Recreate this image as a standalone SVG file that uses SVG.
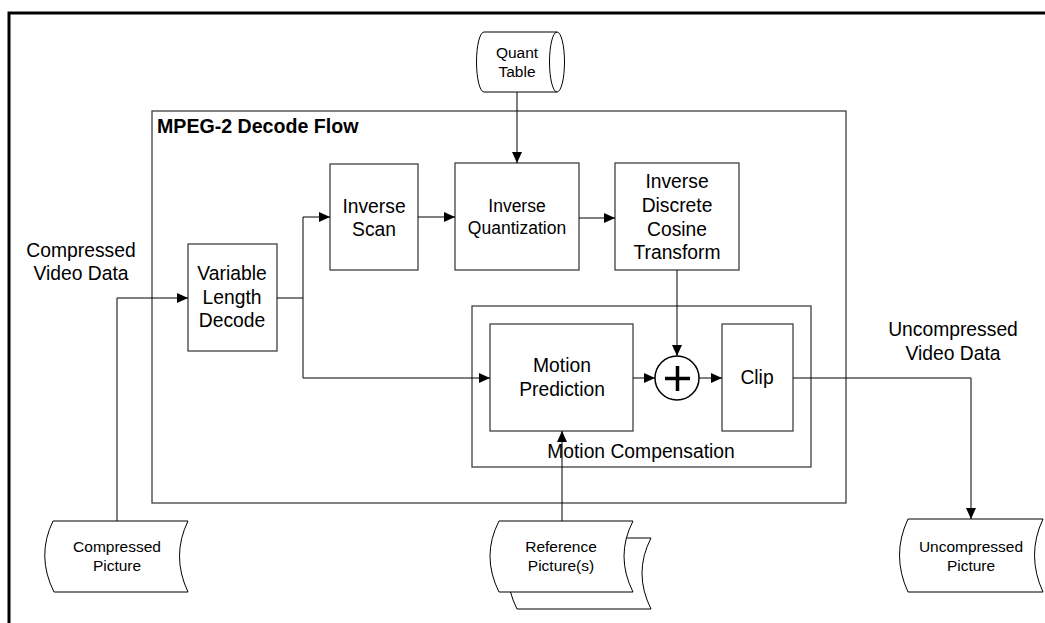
<svg xmlns="http://www.w3.org/2000/svg" width="1045" height="623" viewBox="0 0 1045 623">
<style>
text{font-family:"Liberation Sans",Arial,sans-serif;fill:#000;text-anchor:middle}
.l{font-size:19.3px}
.s{font-size:15.5px}
.q{font-size:17.5px}
.t{font-size:19.6px;font-weight:bold;text-anchor:start}
.box{fill:#fff;stroke:#404040;stroke-width:1.3}
.grp{fill:none;stroke:#404040;stroke-width:1.3}
.shape{fill:#fff;stroke:#000;stroke-width:1}
.c{fill:none;stroke:#000;stroke-width:1}
.ca{fill:none;stroke:#000;stroke-width:1;marker-end:url(#ah)}
</style>
<defs>
<marker id="ah" markerUnits="userSpaceOnUse" markerWidth="11" markerHeight="10" refX="11" refY="5" orient="auto">
<path d="M0,0 L11,5 L0,10 Z" fill="#000"/>
</marker>
</defs>
<rect width="1045" height="623" fill="#fff"/>
<path d="M9,623 V13 H1045" fill="none" stroke="#000" stroke-width="3"/>

<g id="decode-flow">
<rect class="grp" x="152" y="111" width="694" height="392"/>
<text class="t" x="157" y="133">MPEG-2 Decode Flow</text>
</g>

<g id="motion-compensation">
<rect class="grp" x="472" y="306" width="339" height="161"/>
<text class="l" x="641" y="458">Motion Compensation</text>
</g>

<g id="labels">
<text class="l" x="81" y="257">Compressed</text>
<text class="l" x="81" y="280">Video Data</text>
<text class="l" x="953" y="336">Uncompressed</text>
<text class="l" x="953" y="360">Video Data</text>
</g>

<g id="quant-table">
<path class="shape" d="M484,32 L557,32 A7.5,30 0 0 1 557,92 L484,92 A7.5,30 0 0 1 484,32 Z"/>
<path class="c" d="M557,32 A7.5,30 0 0 0 557,92"/>
<text class="s" x="517" y="58">Quant</text>
<text class="s" x="517" y="77">Table</text>
</g>

<g id="vld">
<rect class="box" x="188" y="244" width="89" height="107"/>
<text class="l" x="232" y="280">Variable</text>
<text class="l" x="232" y="304">Length</text>
<text class="l" x="232" y="327">Decode</text>
</g>

<g id="inverse-scan">
<rect class="box" x="330" y="164" width="88" height="106"/>
<text class="l" x="374" y="213">Inverse</text>
<text class="l" x="374" y="236">Scan</text>
</g>

<g id="inverse-quantization">
<rect class="box" x="455" y="163" width="124" height="107"/>
<text class="q" x="517" y="212">Inverse</text>
<text class="q" x="517" y="234">Quantization</text>
</g>

<g id="idct">
<rect class="box" x="615" y="163" width="124" height="107"/>
<text class="l" x="677" y="188">Inverse</text>
<text class="l" x="677" y="212">Discrete</text>
<text class="l" x="677" y="236">Cosine</text>
<text class="l" x="677" y="259">Transform</text>
</g>

<g id="motion-prediction">
<rect class="box" x="490" y="324" width="143" height="107"/>
<text class="l" x="562" y="372">Motion</text>
<text class="l" x="562" y="396">Prediction</text>
</g>

<g id="sum">
<circle cx="677" cy="378" r="22" fill="#fff" stroke="#000" stroke-width="1.5"/>
<path d="M665,378.5 H690 M677.5,366 V391" stroke="#000" stroke-width="3.5" fill="none"/>
</g>

<g id="clip">
<rect class="box" x="722" y="324" width="71" height="107"/>
<text class="l" x="757" y="384">Clip</text>
</g>

<g id="compressed-picture">
<path class="shape" d="M53,521 L188,521 Q171,556 188,592 L54,592 Q36,556 53,521 Z"/>
<text class="s" x="117" y="552">Compressed</text>
<text class="s" x="117" y="571">Picture</text>
</g>

<g id="reference-pictures">
<path class="shape" transform="translate(18,17)" d="M499,521 L633,521 Q615,556 633,592 L499,592 Q481,556 499,521 Z"/>
<path class="shape" d="M499,521 L633,521 Q615,556 633,592 L499,592 Q481,556 499,521 Z"/>
<text class="s" x="561" y="552">Reference</text>
<text class="s" x="561" y="571">Picture(s)</text>
</g>

<g id="uncompressed-picture">
<path class="shape" d="M908,519 L1043,519 Q1026,555 1043,592 L908,592 Q891,555 908,519 Z"/>
<text class="s" x="971" y="552">Uncompressed</text>
<text class="s" x="971" y="571">Picture</text>
</g>

<g id="connectors">
<path class="ca" d="M517,92 V163"/>
<path class="ca" d="M117,521 V298 H188"/>
<path class="ca" d="M277,298 H303 V217 H330"/>
<path class="ca" d="M303,298 V378 H490"/>
<path class="ca" d="M418,217 H455"/>
<path class="ca" d="M579,218 H615"/>
<path class="ca" d="M677,270 V356"/>
<path class="ca" d="M633,378 H655"/>
<path class="ca" d="M699,378 H722"/>
<path class="ca" d="M793,378 H971 V519"/>
<path class="ca" d="M562,521 V431"/>
</g>
</svg>
